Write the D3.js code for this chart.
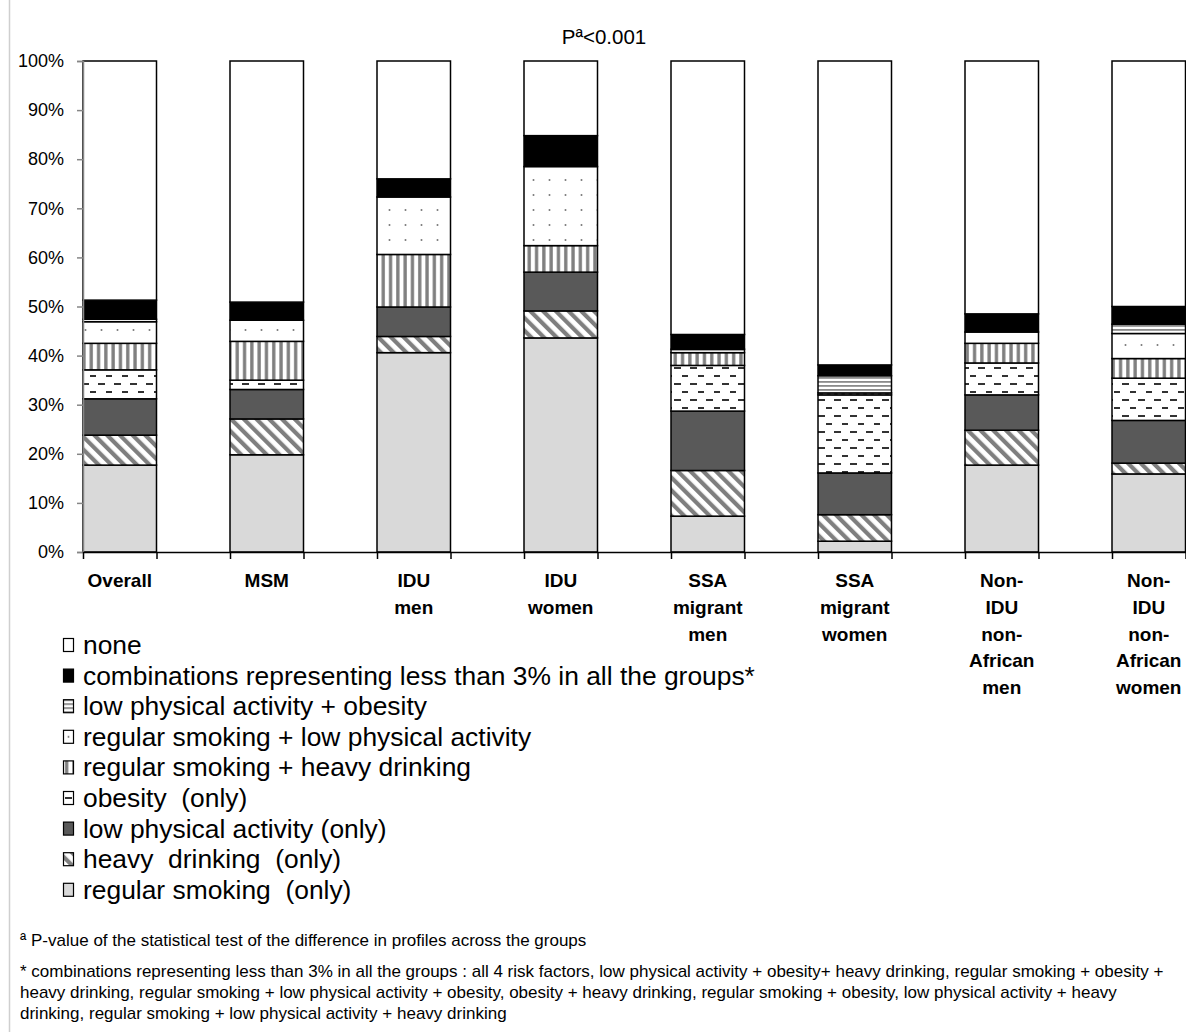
<!DOCTYPE html>
<html>
<head>
<meta charset="utf-8">
<script src="https://cdn.jsdelivr.net/npm/d3@7/dist/d3.min.js"></script>
<style>
  html, body { margin: 0; padding: 0; background: #fff; }
  svg { display: block; }
  text { fill: #000; }
</style>
</head>
<body>
<svg id="chart" width="1186" height="1032"></svg>
<script>
// Risk-factor profiles by group (percent of each group), stacked bottom to top.
const categories = ["Overall", "MSM", "IDU men", "IDU women", "SSA migrant men",
  "SSA migrant women", "Non-IDU non-African men", "Non-IDU non-African women"];
const categoryLines = [["Overall"], ["MSM"], ["IDU", "men"], ["IDU", "women"],
  ["SSA", "migrant", "men"], ["SSA", "migrant", "women"],
  ["Non-", "IDU", "non-", "African", "men"], ["Non-", "IDU", "non-", "African", "women"]];

const regularSmoking  = [17.7, 19.8, 40.6, 43.6,  7.3,  2.2, 17.7, 15.9];
const heavyDrinking   = [ 6.1,  7.3,  3.3,  5.5,  9.3,  5.4,  7.1,  2.2];
const lowActivity     = [ 7.4,  6.0,  6.0,  7.9, 12.1,  8.5,  7.2,  8.7];
const obesity         = [ 5.9,  1.9,  0.0,  0.0,  9.3, 15.9,  6.5,  8.6];
const smokingDrinking = [ 5.4,  7.9, 10.7,  5.4,  2.6,  0.4,  4.0,  4.0];
const smokingActivity = [ 4.4,  4.3, 11.7, 16.1,  0.0,  0.0,  2.3,  5.1];
const activityObesity = [ 0.5,  0.0,  0.0,  0.0,  0.7,  3.5,  0.0,  1.9];
const rareCombos      = [ 3.9,  3.7,  3.7,  6.3,  3.0,  2.2,  3.7,  3.6];
const noneValues      = [48.7, 49.1, 24.0, 15.2, 55.7, 61.9, 51.5, 50.0];

const seriesKeys = ["smk", "drk", "pa", "ob", "smkdrk", "smkpa", "paob", "combo", "none"];
const seriesLabels = ["regular smoking  (only)", "heavy  drinking  (only)", "low physical activity (only)",
  "obesity  (only)", "regular smoking + heavy drinking", "regular smoking + low physical activity",
  "low physical activity + obesity", "combinations representing less than 3% in all the groups*", "none"];
const seriesValues = [regularSmoking, heavyDrinking, lowActivity, obesity, smokingDrinking,
  smokingActivity, activityObesity, rareCombos, noneValues];

const yTicks = [0, 10, 20, 30, 40, 50, 60, 70, 80, 90, 100];
const titleText = "P\u00AA<0.001";
const footnoteA = "\u00AA P-value of the statistical test of the difference in profiles across the groups";
const footnoteB = [
  "* combinations representing less than 3% in all the groups : all 4 risk factors, low physical activity + obesity+ heavy drinking, regular smoking + obesity +",
  "heavy drinking, regular smoking + low physical activity + obesity, obesity + heavy drinking, regular smoking + obesity, low physical activity + heavy",
  "drinking, regular smoking + low physical activity + heavy drinking"
];

// Table for the stack layout
const table = categories.map((c, i) => {
  const row = { category: c };
  seriesKeys.forEach((k, j) => { row[k] = seriesValues[j][i]; });
  return row;
});

const svg = d3.select("#chart");
const FONT = "'Liberation Sans', Arial, sans-serif";

// Figure frame line on the left
svg.append("line").attr("x1", 9.5).attr("x2", 9.5).attr("y1", 0).attr("y2", 1032)
  .attr("stroke", "#cfcfcf").attr("stroke-width", 1.5);

// ---- fill patterns ----
const defs = svg.append("defs");
function pat(id, w, h, build, transform) {
  const p = defs.append("pattern").attr("id", id).attr("patternUnits", "userSpaceOnUse")
    .attr("width", w).attr("height", h);
  if (transform) p.attr("patternTransform", transform);
  p.append("rect").attr("width", w).attr("height", h).attr("fill", "#fff");
  build(p);
}
// light grey solid
pat("p-smk", 4, 4, p => p.select("rect").attr("fill", "#d9d9d9"));
// diagonal (downward) stripes
pat("p-drk", 9, 9, p => p.append("rect").attr("x", 0).attr("y", 0).attr("width", 4.2).attr("height", 9).attr("fill", "#7f7f7f"), "rotate(-45)");
// dark grey solid
pat("p-pa", 4, 4, p => p.select("rect").attr("fill", "#595959"));
// dashed horizontal
pat("p-ob", 16, 16, p => {
  p.append("rect").attr("x", 2).attr("y", -0.8).attr("width", 7).attr("height", 1.6).attr("fill", "#000");
  p.append("rect").attr("x", 2).attr("y", 15.2).attr("width", 7).attr("height", 1.6).attr("fill", "#000");
  p.append("rect").attr("x", 10).attr("y", 7.2).attr("width", 7).attr("height", 1.6).attr("fill", "#000");
});
// vertical stripes
pat("p-smkdrk", 7.3, 8, p => p.append("rect").attr("x", 2).attr("width", 3.3).attr("height", 8).attr("fill", "#7f7f7f"));
// sparse dots
pat("p-smkpa", 16, 15, p => {
  p.append("circle").attr("cx", 5.5).attr("cy", 0).attr("r", 1).attr("fill", "#777");
  p.append("circle").attr("cx", 5.5).attr("cy", 15).attr("r", 1).attr("fill", "#777");
});
// fine horizontal stripes
pat("p-paob", 6, 4, p => p.append("rect").attr("y", 1).attr("width", 6).attr("height", 1.8).attr("fill", "#8a8a8a"));
// black / white
pat("p-combo", 4, 4, p => p.select("rect").attr("fill", "#000"));
pat("p-none", 4, 4, p => p.select("rect").attr("fill", "#fff"));

// ---- scales ----
const plotLeft = 83, plotRight = 1185.5, plotTop = 61, plotBottom = 552;
const x = d3.scaleBand().domain(categories).range([plotLeft, plotRight])
  .paddingInner(0.5).paddingOuter(0);
const y = d3.scaleLinear().domain([0, 100]).range([plotBottom, plotTop]);
// slot scale for the category-axis tick marks at every bar edge
const slots = d3.range(categories.length * 2);
const slotScale = d3.scaleLinear().domain([0, categories.length * 2 - 1])
  .range([plotLeft, plotRight]);

// ---- title ----
svg.append("text").attr("x", 604).attr("y", 44).attr("text-anchor", "middle")
  .style("font-family", FONT).style("font-size", "20.5px").text(titleText);

// ---- stacked bars ----
const stacked = d3.stack().keys(seriesKeys)(table);
const layers = svg.append("g").selectAll("g").data(stacked).join("g")
  .attr("fill", d => `url(#p-${d.key})`);
layers.selectAll("rect").data(d => d.filter(s => s[1] - s[0] > 0)).join("rect")
  .attr("x", d => x(d.data.category))
  .attr("width", x.bandwidth())
  .attr("y", d => y(d[1]))
  .attr("height", d => y(d[0]) - y(d[1]))
  .attr("stroke", "#000").attr("stroke-width", 1.5);

// ---- y axis ----
const yAxis = svg.append("g").attr("transform", `translate(${plotLeft},0)`)
  .call(d3.axisLeft(y).tickValues(yTicks).tickFormat(d => d + "%").tickSize(6).tickPadding(13));
yAxis.select(".domain").attr("stroke", "#868686").attr("stroke-width", 1.5);
yAxis.selectAll(".tick line").attr("stroke", "#868686").attr("stroke-width", 1.5);
yAxis.selectAll(".tick text").style("font-family", FONT).style("font-size", "18px").attr("fill", "#000");

// ---- x axis (ticks at every bar edge) ----
const xAxis = svg.append("g").attr("transform", `translate(0,${plotBottom})`)
  .call(d3.axisBottom(slotScale).tickValues(slots).tickFormat("").tickSizeInner(7).tickSizeOuter(0));
xAxis.select(".domain").attr("stroke", "#000").attr("stroke-width", 1.5);
xAxis.selectAll(".tick line").attr("stroke", "#000").attr("stroke-width", 1.5);

// category labels
const catG = svg.append("g").selectAll("text").data(categories).join("text")
  .attr("text-anchor", "middle")
  .attr("x", d => x(d) + x.bandwidth() / 2)
  .attr("y", 587)
  .style("font-family", FONT).style("font-size", "19px").style("font-weight", "bold");
catG.selectAll("tspan").data((d, i) => categoryLines[i]).join("tspan")
  .attr("x", function() { return d3.select(this.parentNode).attr("x"); })
  .attr("dy", (d, i) => i === 0 ? 0 : 26.8)
  .text(d => d);

// ---- legend (top row = last series) ----
const legendOrder = d3.range(seriesKeys.length).reverse();
const legend = svg.append("g").selectAll("g").data(legendOrder).join("g")
  .attr("transform", (d, i) => `translate(63,${645 + i * 30.6})`);
legend.append("rect").attr("x", 0.5).attr("y", -6.5).attr("width", 10).attr("height", 13)
  .attr("fill", d => `url(#p-${seriesKeys[d]})`).attr("stroke", "#000").attr("stroke-width", 1.2);
legend.append("text").attr("x", 20).attr("y", 9)
  .style("font-family", FONT).style("font-size", "26.4px").style("white-space", "pre")
  .text(d => seriesLabels[d]);

// ---- footnotes ----
svg.append("text").attr("x", 20).attr("y", 946)
  .style("font-family", FONT).style("font-size", "17px").text(footnoteA);
svg.append("g").selectAll("text").data(footnoteB).join("text")
  .attr("x", 20).attr("y", (d, i) => 977 + i * 21)
  .style("font-family", FONT).style("font-size", "17px").text(d => d);
</script>
</body>
</html>
